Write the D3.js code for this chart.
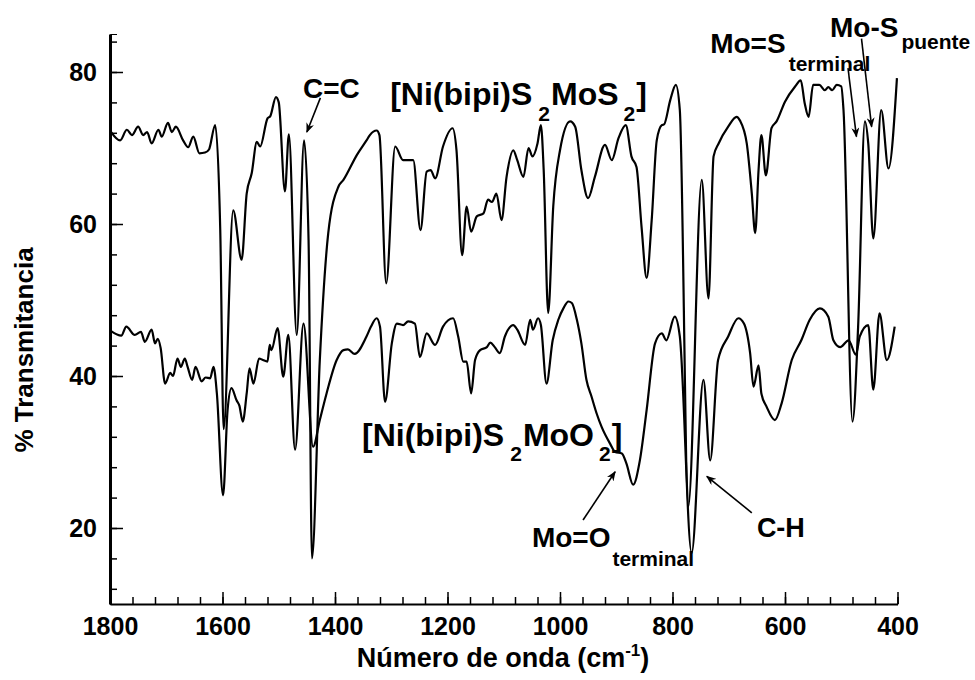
<!DOCTYPE html>
<html>
<head>
<meta charset="utf-8">
<script src="https://cdn.jsdelivr.net/npm/d3@7"></script>
<style>
body { margin: 0; background: #fff; }
text { font-family: "Liberation Sans", Arial, sans-serif; font-weight: bold; fill: #000; }
</style>
</head>
<body>
<script>
// [Ni(bipi)S2MoS2] spectrum (upper trace)
let wnMoS2 = [1798,1782,1770,1761,1750,1741,1734,1726,1714,1708,1697,1690,1683,1670,1661,1652,1641,1631,1624,1613,
  1604,1598,1581,1566,1557,1548,1539,1533,1520,1515,1505,1500,1489,1482,1468,1455,1447,1441,1427,1412,
  1394,1385,1361,1344,1338,1326,1321,1309,1293,1279,1261,1248,1237,1230,1222,1208,1191,1184,1174,1166,
  1158,1148,1136,1128,1121,1113,1104,1095,1083,1076,1065,1056,1049,1040,1034,1029,1021,1012,1000,982,
  973,962,950,938,920,908,896,883,873,864,855,846,837,828,819,815,804,794,787,772,
  748,736,727,718,701,686,680,668,659,653,647,642,634,624,615,600,582,572,565,558,
  550,539,529,523,516,508,500,496,480,470,458,452,443,429,416,401]
let tMoS2 = [72.1,71.0,72.4,71.7,72.8,71.7,72.1,70.6,72.4,71.5,73.3,72.1,72.8,71.0,70.1,71.5,69.3,69.4,69.8,73.0,
  59.2,33.0,61.8,55.3,64.0,66.7,70.8,70.2,73.9,74.2,76.7,76.0,64.3,71.8,45.4,71.0,57.9,16.0,42.1,58.8,
  64.9,65.8,69.1,71.0,71.7,72.3,71.7,52.2,70.2,68.4,68.4,59.2,66.9,67.1,66.0,70.2,72.6,69.7,55.9,62.3,
  59.0,61.0,61.4,63.2,62.9,64.0,60.5,66.2,69.7,68.4,66.2,70.0,68.9,70.6,73.0,67.1,48.3,62.3,69.7,73.5,
  72.8,67.1,63.4,66.2,70.4,68.4,71.3,73.0,68.9,67.5,59.6,52.9,60.5,71.0,73.0,73.1,76.3,78.3,75.0,22.8,
  65.8,50.2,68.9,70.6,72.8,74.1,73.6,70.6,64.0,58.8,67.1,71.7,66.4,72.6,73.5,76.1,78.1,78.9,75.9,74.1,
  78.3,78.3,77.6,78.0,77.6,78.3,78.1,75.0,34.0,46.5,73.5,70.6,58.1,75.0,67.3,79.2]

// [Ni(bipi)S2MoO2] spectrum (lower trace)
let wnMoO2 = [1798,1780,1771,1756,1745,1738,1726,1720,1715,1710,1702,1693,1688,1680,1674,1667,1662,1654,1648,1637,
  1630,1622,1616,1610,1599,1591,1584,1575,1570,1564,1557,1552,1545,1535,1528,1520,1516,1513,1502,1492,
  1483,1471,1456,1439,1427,1415,1397,1385,1377,1365,1344,1336,1326,1320,1311,1299,1290,1279,1270,1258,
  1249,1237,1222,1208,1190,1181,1172,1166,1158,1151,1142,1130,1124,1116,1107,1098,1083,1076,1062,1053,
  1048,1039,1034,1024,1013,1003,994,985,979,970,962,953,944,935,926,911,902,890,882,870,
  858,846,831,819,811,796,787,766,745,733,719,701,683,673,662,656,647,642,633,618,
  606,588,571,556,538,523,514,502,487,474,467,452,443,432,419,405]
let tMoO2 = [45.9,45.3,46.5,45.4,45.8,44.5,46.1,44.3,44.9,43.7,39.0,40.4,40.0,42.3,41.2,42.3,41.2,39.5,41.2,39.3,
  39.8,39.7,41.2,37.7,24.3,35.5,38.4,36.8,36.1,34.0,37.7,41.0,39.0,42.3,42.1,41.9,44.1,43.4,46.3,39.9,
  45.4,30.3,46.9,30.7,34.2,37.7,42.1,43.4,43.5,42.9,45.2,46.5,47.6,46.5,36.6,44.3,46.9,46.7,47.2,46.9,
  42.5,45.6,44.1,46.5,47.6,45.2,41.9,41.9,37.7,42.1,43.4,43.8,44.4,43.8,43.0,45.2,46.7,46.1,44.1,47.4,
  46.1,47.6,46.7,39.0,44.7,47.4,48.9,49.8,49.6,47.4,44.3,39.5,37.3,35.1,33.3,31.1,30.0,29.8,28.5,25.7,
  28.9,35.5,44.3,45.6,44.7,47.8,45.2,16.7,39.5,28.9,42.1,45.2,47.6,46.9,43.0,38.6,41.4,37.7,36.0,34.2,
  36.4,42.1,44.7,47.4,48.9,47.8,44.7,43.8,44.7,42.8,45.2,46.7,38.2,48.25,42.1,46.5]

let xTicks = [1800,1600,1400,1200,1000,800,600,400]
let yTicks = [20,40,60,80]

let w = 975, h = 680
let svg = d3.select("body").append("svg").attr("width", w).attr("height", h)

let x = d3.scaleLinear().domain([1800, 400]).range([110, 897.5])
let y = d3.scaleLinear().domain([10, 85]).range([604, 34])

// minor ticks
let xMinor = d3.range(1800, 399, -40)
let yMinor = d3.range(12, 85, 4)

svg.append("g").attr("transform", "translate(0,604)")
  .call(d3.axisBottom(x).tickValues(xMinor).tickSize(-7).tickFormat(""))
svg.append("g").attr("transform", "translate(110,0)")
  .call(d3.axisLeft(y).tickValues(yMinor).tickSize(-7).tickFormat(""))

let xAxis = svg.append("g").attr("transform", "translate(0,604)")
  .call(d3.axisBottom(x).tickValues(xTicks).tickFormat(d3.format("d")).tickSize(-12).tickSizeOuter(0).tickPadding(13))
let yAxis = svg.append("g").attr("transform", "translate(110,0)")
  .call(d3.axisLeft(y).tickValues(yTicks).tickFormat(d3.format("d")).tickSize(-13).tickSizeOuter(0).tickPadding(13))

svg.selectAll(".tick line").attr("stroke", "#000").attr("stroke-width", 1.5)
svg.selectAll(".domain").attr("stroke", "#000")
xAxis.select(".domain").attr("stroke-width", 2.2)
yAxis.select(".domain").attr("stroke-width", 3)
xAxis.selectAll("text").attr("font-size", 25)
yAxis.selectAll("text").attr("font-size", 25)
svg.selectAll("g").attr("font-family", null)

// spectra
let line = d3.line().x(d => x(d[0])).y(d => y(d[1])).curve(d3.curveMonotoneX)
let series = [d3.zip(wnMoS2, tMoS2), d3.zip(wnMoO2, tMoO2)]
svg.selectAll(".spec").data(series).enter().append("path")
  .attr("class", "spec")
  .attr("d", line)
  .attr("fill", "none")
  .attr("stroke", "#000")
  .attr("stroke-width", 2.2)
  .attr("stroke-linejoin", "round")

// axis titles
svg.append("text")
  .attr("transform", "translate(33,350) rotate(-90)")
  .attr("text-anchor", "middle")
  .attr("font-size", 26)
  .text("% Transmitancia")

let xt = svg.append("text").attr("x", 503).attr("y", 667)
  .attr("text-anchor", "middle").attr("font-size", 27)
xt.append("tspan").text("Número de onda (cm")
xt.append("tspan").attr("font-size", 17).attr("dy", -11).text("-1")
xt.append("tspan").attr("dy", 11).text(")")

// arrows
svg.append("defs").append("marker")
  .attr("id", "head").attr("viewBox", "0 0 10 8")
  .attr("refX", 9).attr("refY", 4)
  .attr("markerWidth", 11).attr("markerHeight", 8)
  .attr("markerUnits", "userSpaceOnUse").attr("orient", "auto")
  .append("path").attr("d", "M0,0 L10,4 L0,8 L3,4 z").attr("fill", "#000")

let arrows = [
  [[1426, 76.6], [1450, 72.1]],
  [[488, 80.5], [473, 71.5]],
  [[464, 84.4], [446, 72.8]],
  [[959, 21.05], [902, 27.4]],
  [[659, 22.0], [739, 26.8]]
]
svg.selectAll(".arrow").data(arrows).enter().append("line")
  .attr("class", "arrow")
  .attr("x1", d => x(d[0][0])).attr("y1", d => y(d[0][1]))
  .attr("x2", d => x(d[1][0])).attr("y2", d => y(d[1][1]))
  .attr("stroke", "#000").attr("stroke-width", 1.6)
  .attr("marker-end", "url(#head)")

// band labels at (wavenumber, %T); parts: [text, subscript drop, dx]
function label(wn, t, parts, size, subSize) {
  let txt = svg.append("text").attr("x", x(wn)).attr("y", y(t)).attr("font-size", size)
  let down = 0
  parts.forEach(p => {
    let s = txt.append("tspan").text(p[0])
    let drop = p[1] || 0
    s.attr("dy", drop - down).attr("dx", p[2] || 0)
    if (drop) s.attr("font-size", subSize)
    down = drop
  })
}
label(1457, 76.6, [["C=C"]], 28)
label(733, 82.5, [["Mo=S"], ["terminal", 18, 3]], 28, 21)
label(520, 84.6, [["Mo-S"], ["puente", 12, 3]], 28, 21)
label(1050, 17.5, [["Mo=O"], ["terminal", 19, 2]], 28, 21)
label(650, 18.8, [["C-H"]], 27)

label(1302, 75.7, [["[Ni(bipi)S"], ["2", 16, 6], ["MoS", 0, 1], ["2", 16, 5], ["]", 0, 1]], 32, 21)
label(1352, 30.8, [["[Ni(bipi)S"], ["2", 15, 6], ["MoO", 0, 1], ["2", 15, 5], ["]", 0, 1]], 32, 21)
</script>
</body>
</html>
